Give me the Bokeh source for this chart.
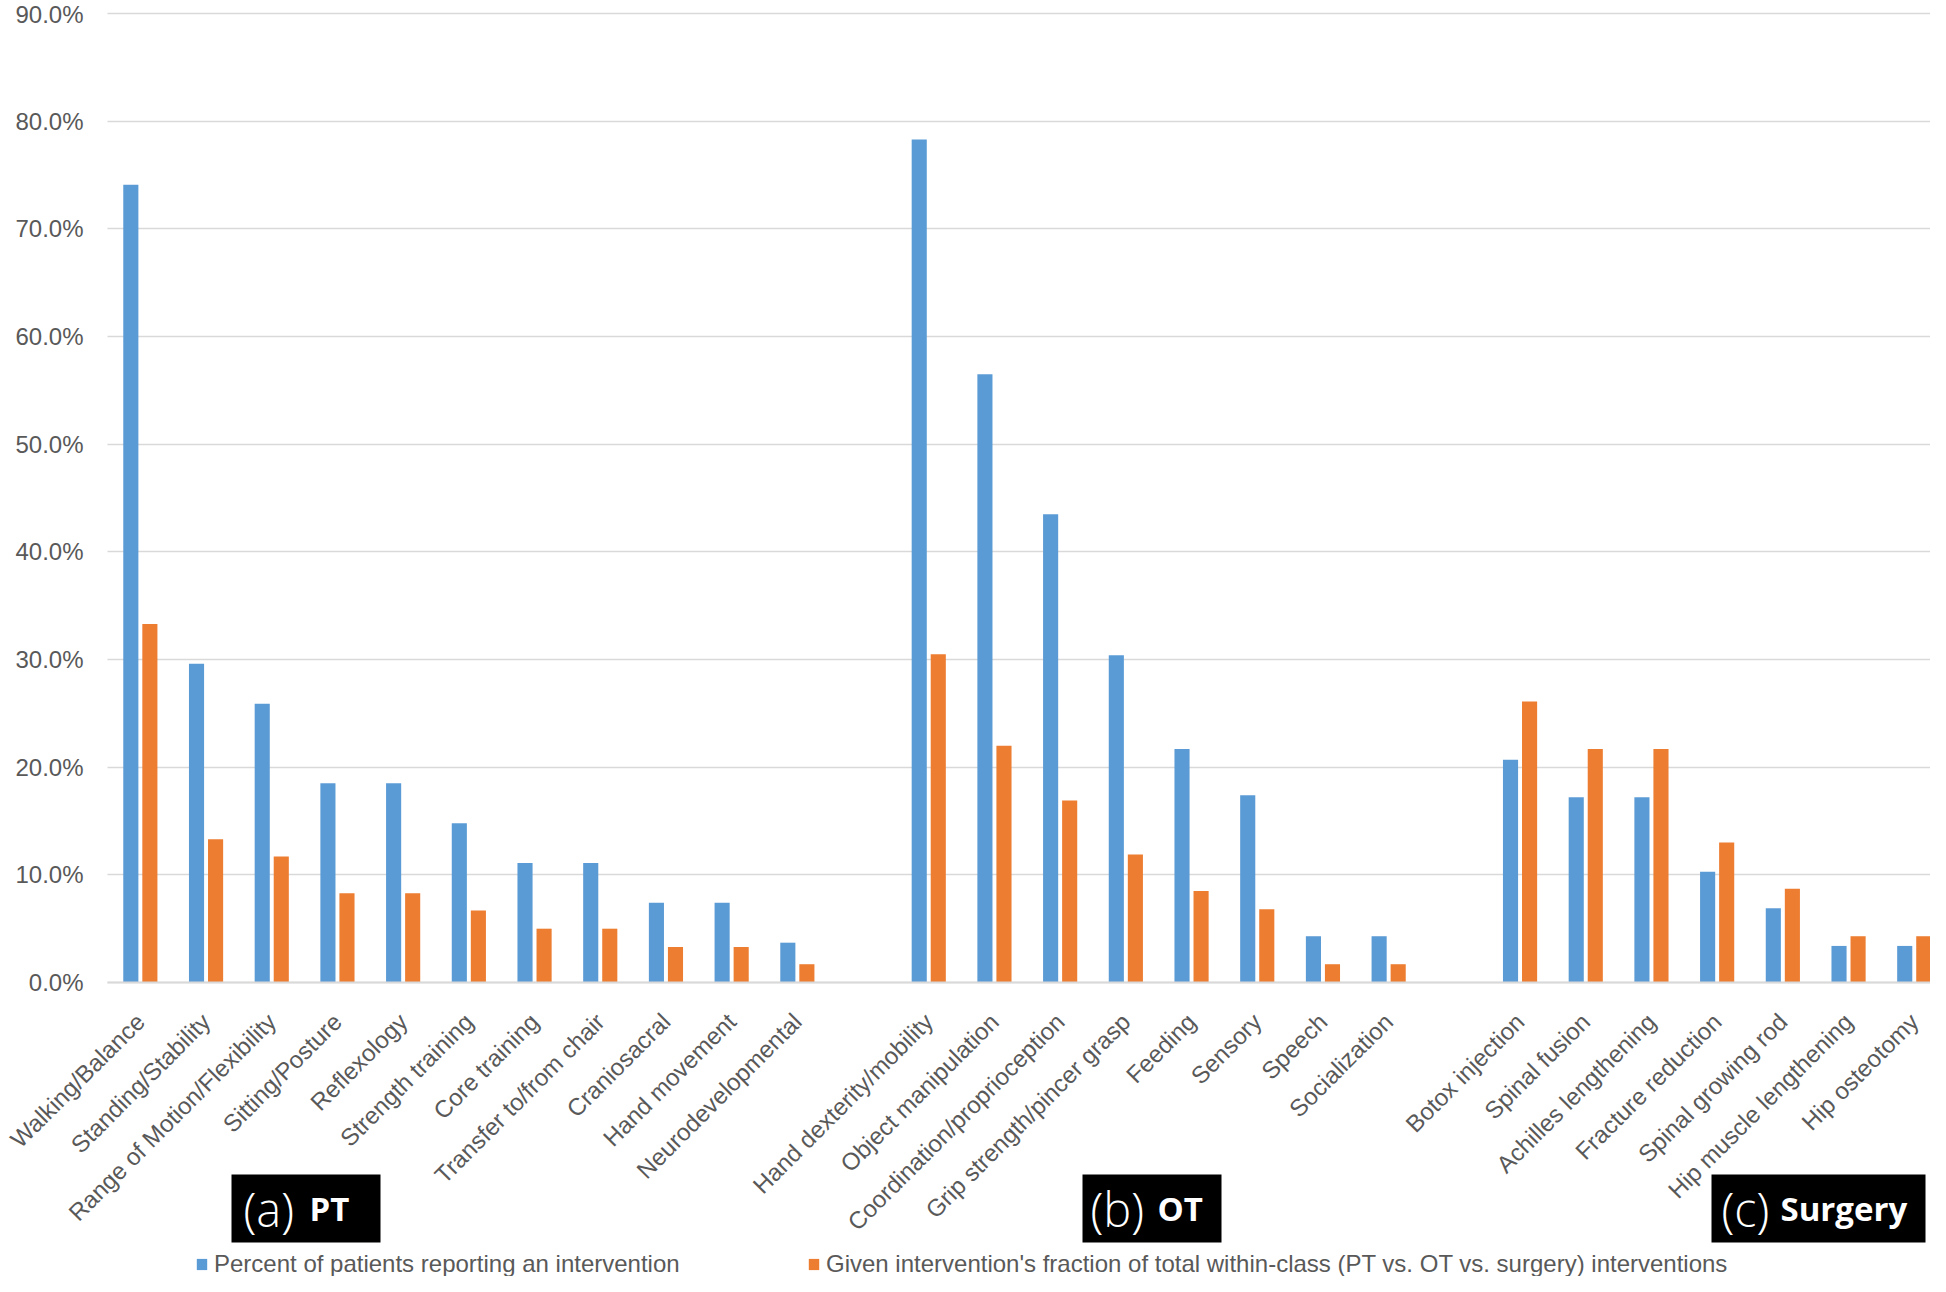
import math
from bokeh.plotting import figure
from bokeh.models import (Range1d, ColumnDataSource, FixedTicker, PrintfTickFormatter,
                          Legend, LegendItem, Label, BoxAnnotation)
from bokeh.transform import dodge
from bokeh.embed import file_html
from bokeh.resources import INLINE

# ---------------- data ----------------
pt_categories = ["Walking/Balance", "Standing/Stability", "Range of Motion/Flexibility",
                 "Sitting/Posture", "Reflexology", "Strength training", "Core training",
                 "Transfer to/from chair", "Craniosacral", "Hand movement", "Neurodevelopmental"]
pt_percent_patients = [74.1, 29.6, 25.9, 18.5, 18.5, 14.8, 11.1, 11.1, 7.4, 7.4, 3.7]
pt_fraction = [33.3, 13.3, 11.7, 8.3, 8.3, 6.7, 5.0, 5.0, 3.3, 3.3, 1.7]

ot_categories = ["Hand dexterity/mobility", "Object manipulation", "Coordination/proprioception",
                 "Grip strength/pincer grasp", "Feeding", "Sensory", "Speech", "Socialization"]
ot_percent_patients = [78.3, 56.5, 43.5, 30.4, 21.7, 17.4, 4.3, 4.3]
ot_fraction = [30.5, 22.0, 16.9, 11.9, 8.5, 6.8, 1.7, 1.7]

surgery_categories = ["Botox injection", "Spinal fusion", "Achilles lengthening",
                      "Fracture reduction", "Spinal growing rod", "Hip muscle lengthening",
                      "Hip osteotomy"]
surgery_percent_patients = [20.7, 17.2, 17.2, 10.3, 6.9, 3.4, 3.4]
surgery_fraction = [26.1, 21.7, 21.7, 13.0, 8.7, 4.3, 4.3]

y_ticks = [0, 10, 20, 30, 40, 50, 60, 70, 80, 90]
group_prefixes = ["(a)", "(b)", "(c)"]
group_names = ["PT", "OT", "Surgery"]
legend_labels = ["Percent of patients reporting an intervention",
                 "Given intervention's fraction of total within-class (PT vs. OT vs. surgery) interventions"]

# ---------------- build ----------------
BLUE = "#5B9BD5"
ORANGE = "#ED7D31"
GRID = "#D9D9D9"
TXT = "#595959"
FONT = "Liberation Sans"

W, H = 1930, 1276
PLOT_LEFT = 107          # px where the category area starts
SLOT = 65.7              # px per category slot
PX_PER_PCT = 10.767      # px per percentage point
TOP_PAD = 13             # px above the 90 % line

# category slots: one empty slot separates the three classes
slots = pt_categories + [""] + ot_categories + [""] + surgery_categories
n_slots = len(slots)
centers = [i + 0.5 for i, s in enumerate(slots) if s]
cats = pt_categories + ot_categories + surgery_categories
src = ColumnDataSource(dict(
    x=centers,
    cat=cats,
    patients=pt_percent_patients + ot_percent_patients + surgery_percent_patients,
    fraction=pt_fraction + ot_fraction + surgery_fraction,
))

x_start = -PLOT_LEFT / SLOT
x_end = x_start + W / SLOT
y_end = y_ticks[-1] + TOP_PAD / PX_PER_PCT
y_start = y_end - H / PX_PER_PCT

# frame covers the whole canvas; axes sit at x = 0 and y = 0
p = figure(x_range=Range1d(x_start, x_end), y_range=Range1d(y_start, y_end),
           width=W, height=H, output_backend="svg", toolbar_location=None,
           min_border_left=0, min_border_right=0, min_border_top=0, min_border_bottom=0)

r1 = p.vbar(x=dodge("x", -0.145), top="patients", width=0.23,
            source=src, fill_color=BLUE, line_color=None)
r2 = p.vbar(x=dodge("x", 0.145), top="fraction", width=0.23,
            source=src, fill_color=ORANGE, line_color=None)

p.outline_line_color = None
p.background_fill_color = "white"

p.xgrid.grid_line_color = None
p.ygrid.grid_line_color = GRID
p.ygrid.grid_line_width = 1.5
p.ygrid.ticker = FixedTicker(ticks=y_ticks)
p.ygrid.cross_bounds = (0, n_slots)

xa = p.xaxis[0]
xa.fixed_location = 0
xa.bounds = (0, n_slots)
xa.ticker = FixedTicker(ticks=centers)
xa.major_label_overrides = {c: name for c, name in zip(centers, cats)}
xa.major_label_orientation = math.pi / 4
xa.major_label_text_font = FONT
xa.major_label_text_font_size = "24px"
xa.major_label_text_color = TXT
xa.major_tick_line_color = None
xa.minor_tick_line_color = None
xa.major_tick_out = 0
xa.major_tick_in = 0
xa.axis_line_color = GRID
xa.axis_line_width = 2
xa.major_label_standoff = 35

ya = p.yaxis[0]
ya.fixed_location = 0
ya.ticker = FixedTicker(ticks=y_ticks)
ya.formatter = PrintfTickFormatter(format="%.1f%%")
ya.major_label_text_font = FONT
ya.major_label_text_font_size = "24px"
ya.major_label_text_color = TXT
ya.axis_line_color = None
ya.major_tick_line_color = None
ya.minor_tick_line_color = None
ya.major_tick_out = 0
ya.major_tick_in = 0
ya.major_label_standoff = 24

# group label boxes (screen units relative to plot frame, y up from frame bottom)
box_lr = [(231, 380), (1082, 1221), (1711, 1925)]
prefix_x = [243, 1090, 1721]
name_x = [309, 1157, 1780]
for (l, r), px, nx, pre, nm in zip(box_lr, prefix_x, name_x, group_prefixes, group_names):
    p.add_layout(BoxAnnotation(left=l, right=r, top=102, bottom=34,
                               left_units="screen", right_units="screen",
                               top_units="screen", bottom_units="screen",
                               fill_color="black", fill_alpha=1.0, line_color=None))
    p.add_layout(Label(x=px, y=68, x_units="screen", y_units="screen", text=pre,
                       text_font="'Open Sans Light', 'Open Sans'", text_font_size="47px",
                       text_color="white", text_baseline="middle", text_align="left"))
    p.add_layout(Label(x=nx, y=68, x_units="screen", y_units="screen", text=nm,
                       text_font="Open Sans", text_font_style="bold",
                       text_font_size="33px", text_color="white",
                       text_baseline="middle", text_align="left"))

# legends
for rend, lab, lx in zip([r1, r2], legend_labels, [195, 807]):
    leg = Legend(items=[LegendItem(label=lab, renderers=[rend])], location=(lx, -2),
                 orientation="horizontal", border_line_color=None, background_fill_alpha=0,
                 padding=0, margin=0, glyph_width=13, glyph_height=14, label_standoff=6,
                 label_text_font=FONT, label_text_font_size="24px", label_text_color=TXT)
    p.add_layout(leg, "center")

open("out.html", "w").write(file_html(p, INLINE))
